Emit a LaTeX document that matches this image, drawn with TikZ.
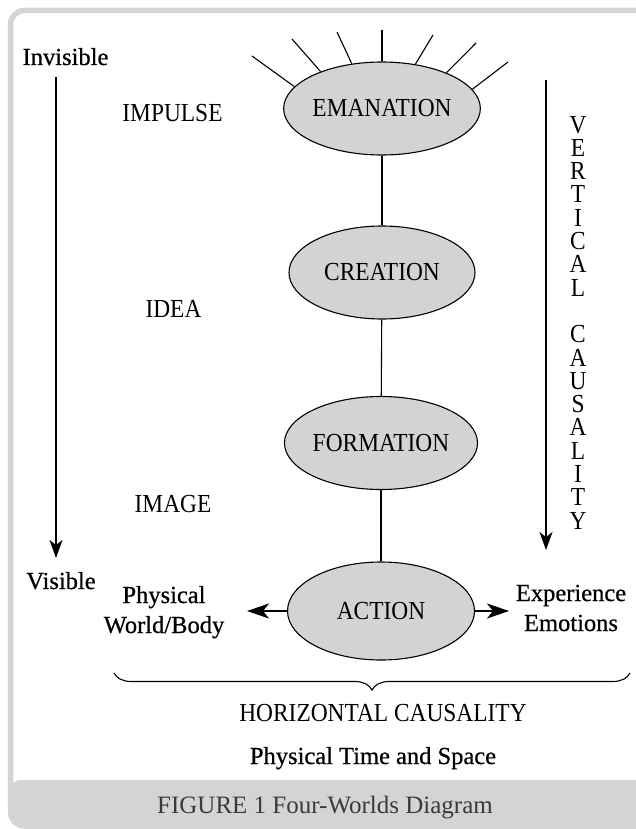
\documentclass[tikz,border=0pt]{standalone}
\usepackage{fontspec}
\setmainfont{Liberation Serif}
\newfontfamily\condfont[FakeStretch=0.9]{Liberation Serif}
\newfontfamily\sidefont[FakeBold=0.6]{Liberation Serif}
\usetikzlibrary{arrows.meta,decorations.pathreplacing,shapes.geometric}
\definecolor{framegray}{HTML}{D4D4D4}
\definecolor{ellgray}{HTML}{D3D3D3}
\definecolor{capgray}{HTML}{3A3A3A}
\begin{document}
\begin{tikzpicture}[x=1pt,y=-1pt,
  world/.style={ellipse, draw=black, line width=1.1pt, fill=ellgray,
    minimum width=186pt, minimum height=93pt, inner sep=0pt,
    font=\condfont\fontsize{26}{28}\selectfont},
  lvl/.style={anchor=base, inner sep=0pt, font=\condfont\fontsize{26}{28}\selectfont},
  side/.style={anchor=base, inner sep=0pt, font=\sidefont\fontsize{24.5}{30}\selectfont},
  vlet/.style={anchor=base, inner sep=0pt, align=center, font=\condfont\fontsize{26}{23.3}\selectfont},
  link/.style={line width=1.1pt},
  ray/.style={line width=1.1pt},
  varrow/.style={line width=1.3pt, -{Stealth[length=18pt,width=13pt,inset=5pt]}},
  harrow/.style={line width=2.2pt, -{Stealth[length=22pt,width=15pt,inset=6pt]}}]
\useasboundingbox (0,0) rectangle (636,829);
\clip (0,0) rectangle (636,829);
% frame and caption bar
\draw[framegray, line width=5.5pt, rounded corners=14pt] (10.5,10.5) rectangle (690,826);
\fill[framegray, rounded corners=10pt] (10.5,780) rectangle (690,826);
\node[anchor=base, inner sep=0pt, text=capgray, font=\fontsize{25}{28}\selectfont] (cap) at (325,813) {FIGURE 1 Four-Worlds Diagram};
% worlds
\node[world] (em) at (382,108.5) {EMANATION};
\node[world] (cr) at (382,272.5) {CREATION};
\node[world] (fo) at (381,443) {FORMATION};
\node[world, minimum width=187pt, minimum height=98pt] (ac) at (381,611) {ACTION};
\draw[link] (em) -- (cr);
\draw[link] (cr) -- (fo);
\draw[link] (fo) -- (ac);
% rays
\coordinate (r1) at (252,56);
\coordinate (r2) at (292,39);
\coordinate (r3) at (337,32);
\coordinate (r4) at (382,30);
\coordinate (r5) at (433,35);
\coordinate (r6) at (476,43);
\coordinate (r7) at (508,62);
\draw[ray] (em.166) -- (r1);
\draw[ray] (em.149) -- (r2);
\draw[ray] (em.124) -- (r3);
\draw[ray] (em.90) -- (r4);
\draw[ray] (em.53) -- (r5);
\draw[ray] (em.29) -- (r6);
\draw[ray] (em.12) -- (r7);
% levels
\node[lvl] (imp) at (172.5,122) {IMPULSE};
\node[lvl] (idea) at (173.5,317) {IDEA};
\node[lvl] (img) at (173,512) {IMAGE};
% left scale
\node[side] (inv) at (65.5,65) {Invisible};
\node[side] (vis) at (61,589) {Visible};
\coordinate (la1) at (56,77);
\coordinate (la2) at (56,558);
\draw[varrow] (la1) -- (la2);
% right scale
\coordinate (ra1) at (546,80);
\coordinate (ra2) at (546,550);
\draw[varrow] (ra1) -- (ra2);
\node[vlet] (vc) at (578,529.1) {V\\E\\R\\T\\I\\C\\A\\L\\[23.3pt]C\\A\\U\\S\\A\\L\\I\\T\\Y};
% horizontal
\node[side] (pw1) at (164,603) {Physical};
\node[side] (pw2) at (164,633) {World/Body};
\node[side] (ex1) at (571,601) {Experience};
\node[side] (ex2) at (571,631) {Emotions};
\coordinate (pl) at (247,611);
\coordinate (pr) at (509,611);
\draw[harrow] (ac.west) -- (pl);
\draw[harrow] (ac.east) -- (pr);
% brace
\coordinate (b1) at (114,673);
\coordinate (b2) at (630,673);
\draw[line width=1.1pt, decorate, decoration={brace, mirror, amplitude=17pt}] (b1) -- (b2);
\node[lvl] (hc) at (383,721) {HORIZONTAL CAUSALITY};
\node[side] (pts) at (373,764) {Physical Time and Space};
\end{tikzpicture}
\end{document}
